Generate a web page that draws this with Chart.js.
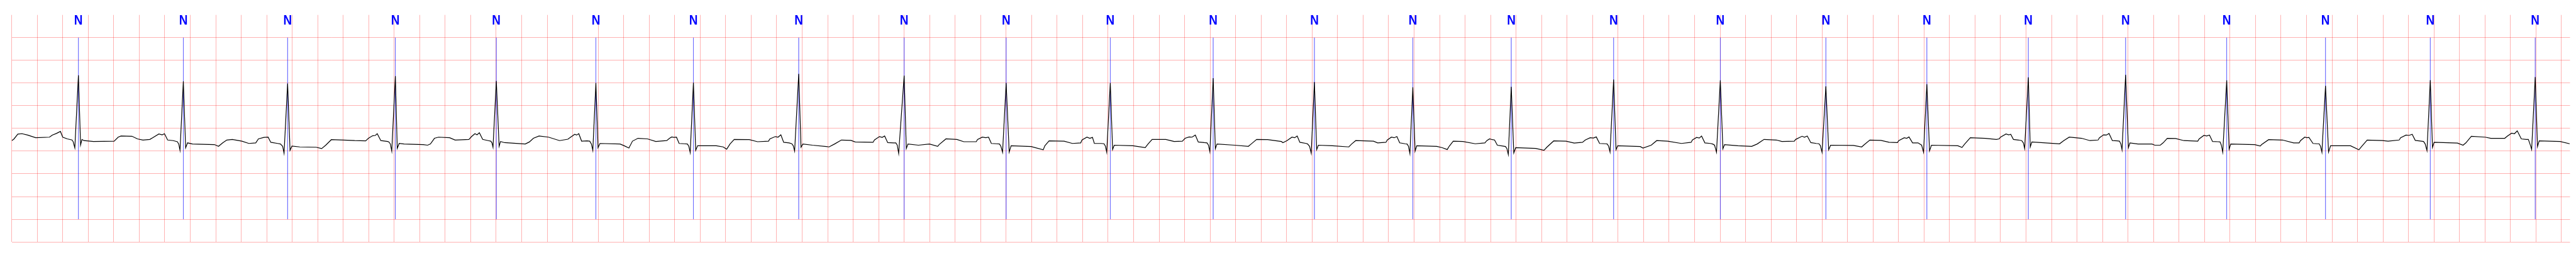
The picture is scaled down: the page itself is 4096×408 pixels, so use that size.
<!DOCTYPE html>
<html>
<head>
<meta charset="utf-8">
<script src="https://cdn.jsdelivr.net/npm/chart.js@4.4.1/dist/chart.umd.min.js"></script>
<style>
html,body{margin:0;padding:0;background:#ffffff;}
#wrap{width:4096px;height:408px;position:relative;}
</style>
</head>
<body>
<div id="wrap"><canvas id="c" width="4096" height="408"></canvas></div>
<script>
// ECG trace: [time (s), amplitude (mV)]
const ecgTrace = [
[0.000,-0.268],[0.016,-0.237],[0.048,-0.124],[0.081,-0.116],[0.124,-0.146],[0.188,-0.205],[0.296,-0.192],[0.318,-0.146],[0.350,-0.111],[0.382,-0.066],[0.400,-0.192],[0.436,-0.230],[0.473,-0.255],[0.482,-0.293],[0.495,-0.429],[0.523,1.172],[0.540,-0.364],[0.551,-0.242],[0.566,-0.268],[0.641,-0.288],[0.803,-0.280],[0.835,-0.192],[0.857,-0.167],[0.943,-0.172],[0.986,-0.230],[1.029,-0.255],[1.083,-0.242],[1.105,-0.205],[1.154,-0.121],[1.180,-0.141],[1.198,-0.116],[1.223,-0.255],[1.267,-0.268],[1.299,-0.293],[1.310,-0.343],[1.320,-0.482],[1.346,1.040],[1.364,-0.427],[1.379,-0.318],[1.418,-0.343],[1.590,-0.356],[1.622,-0.394],[1.655,-0.318],[1.687,-0.255],[1.730,-0.242],[1.806,-0.280],[1.860,-0.331],[1.914,-0.318],[1.935,-0.230],[1.978,-0.197],[2.011,-0.192],[2.032,-0.306],[2.086,-0.331],[2.108,-0.343],[2.125,-0.394],[2.136,-0.545],[2.164,0.990],[2.183,-0.482],[2.198,-0.389],[2.259,-0.407],[2.388,-0.414],[2.431,-0.444],[2.463,-0.369],[2.507,-0.247],[2.604,-0.255],[2.690,-0.268],[2.776,-0.273],[2.798,-0.217],[2.830,-0.162],[2.852,-0.154],[2.867,-0.116],[2.895,-0.268],[2.949,-0.288],[2.959,-0.298],[2.970,-0.343],[2.981,-0.500],[3.009,1.152],[3.024,-0.439],[3.039,-0.331],[3.078,-0.343],[3.229,-0.356],
[3.262,-0.369],[3.284,-0.343],[3.316,-0.217],[3.348,-0.192],[3.435,-0.205],[3.478,-0.255],[3.586,-0.242],[3.607,-0.179],[3.633,-0.116],[3.650,-0.141],[3.668,-0.096],[3.694,-0.242],[3.737,-0.268],[3.758,-0.280],[3.767,-0.318],[3.775,-0.414],[3.801,1.045],[3.823,-0.394],[3.834,-0.288],[3.866,-0.313],[4.028,-0.343],[4.060,-0.298],[4.092,-0.217],[4.136,-0.167],[4.211,-0.192],[4.297,-0.268],[4.362,-0.237],[4.384,-0.192],[4.416,-0.129],[4.431,-0.146],[4.448,-0.116],[4.470,-0.280],[4.513,-0.273],[4.534,-0.280],[4.547,-0.343],[4.558,-0.482],[4.582,1.000],[4.599,-0.424],[4.614,-0.331],[4.772,-0.343],[4.804,-0.381],[4.841,-0.432],[4.869,-0.280],[4.912,-0.217],[4.987,-0.230],[5.052,-0.288],[5.138,-0.268],[5.160,-0.217],[5.177,-0.187],[5.194,-0.197],[5.214,-0.192],[5.235,-0.331],[5.278,-0.338],[5.300,-0.343],[5.311,-0.394],[5.322,-0.533],[5.347,1.008],[5.365,-0.482],[5.380,-0.381],[5.526,-0.381],[5.580,-0.407],[5.608,-0.457],[5.634,-0.343],[5.667,-0.242],[5.785,-0.247],[5.850,-0.293],[5.936,-0.280],[5.947,-0.230],[5.990,-0.179],[6.011,-0.192],[6.033,-0.141],[6.055,-0.306],[6.098,-0.318],[6.119,-0.338],[6.130,-0.381],[6.141,-0.500],[6.173,1.202],[6.191,-0.414],[6.206,-0.343],[6.281,-0.369],[6.389,-0.399],[6.411,-0.407],[6.454,-0.343],[6.508,-0.255],[6.583,-0.263],
[6.616,-0.298],[6.756,-0.306],[6.767,-0.255],[6.806,-0.179],[6.828,-0.197],[6.847,-0.167],[6.871,-0.313],[6.918,-0.318],[6.935,-0.318],[6.946,-0.369],[6.957,-0.551],[7.000,1.164],[7.017,-0.444],[7.030,-0.343],[7.112,-0.369],[7.199,-0.343],[7.263,-0.394],[7.274,-0.356],[7.328,-0.230],[7.414,-0.242],[7.468,-0.293],[7.565,-0.293],[7.576,-0.242],[7.613,-0.192],[7.641,-0.205],[7.662,-0.192],[7.684,-0.331],[7.727,-0.338],[7.748,-0.343],[7.759,-0.394],[7.772,-0.525],[7.800,1.000],[7.824,-0.520],[7.839,-0.381],[7.996,-0.399],[8.091,-0.470],[8.104,-0.381],[8.137,-0.273],[8.255,-0.280],[8.320,-0.331],[8.385,-0.318],[8.395,-0.255],[8.434,-0.192],[8.456,-0.217],[8.477,-0.197],[8.492,-0.331],[8.546,-0.331],[8.568,-0.338],[8.579,-0.394],[8.589,-0.525],[8.617,1.000],[8.635,-0.465],[8.648,-0.369],[8.794,-0.381],[8.891,-0.424],[8.913,-0.343],[8.945,-0.242],[9.053,-0.242],[9.118,-0.288],[9.182,-0.280],[9.204,-0.217],[9.236,-0.187],[9.258,-0.192],[9.284,-0.146],[9.307,-0.298],[9.355,-0.313],[9.376,-0.318],[9.387,-0.369],[9.398,-0.513],[9.424,1.109],[9.441,-0.449],[9.454,-0.343],[9.592,-0.369],[9.700,-0.394],[9.722,-0.343],[9.765,-0.242],[9.851,-0.247],[9.959,-0.288],
[9.971,-0.313],[10.003,-0.268],[10.042,-0.192],[10.063,-0.205],[10.083,-0.167],[10.104,-0.306],[10.154,-0.331],[10.165,-0.343],[10.180,-0.394],[10.193,-0.545],[10.218,1.020],[10.236,-0.465],[10.249,-0.369],[10.359,-0.381],[10.488,-0.407],[10.510,-0.343],[10.542,-0.268],[10.682,-0.280],[10.714,-0.318],[10.779,-0.306],[10.790,-0.255],[10.822,-0.192],[10.844,-0.205],[10.865,-0.179],[10.887,-0.318],[10.930,-0.338],[10.945,-0.343],[10.956,-0.394],[10.967,-0.551],[10.990,0.907],[11.008,-0.500],[11.021,-0.381],[11.178,-0.394],[11.221,-0.424],[11.260,-0.465],[11.275,-0.394],[11.307,-0.280],[11.383,-0.288],[11.480,-0.338],[11.555,-0.318],[11.571,-0.268],[11.592,-0.230],[11.614,-0.247],[11.631,-0.255],[11.653,-0.369],[11.696,-0.389],[11.717,-0.399],[11.728,-0.444],[11.739,-0.576],[11.762,0.919],[11.782,-0.540],[11.797,-0.424],[11.954,-0.439],[12.019,-0.482],[12.041,-0.414],[12.095,-0.275],[12.192,-0.280],[12.256,-0.323],[12.321,-0.306],[12.343,-0.255],[12.381,-0.205],[12.407,-0.212],[12.429,-0.187],[12.455,-0.331],[12.504,-0.338],[12.515,-0.343],[12.526,-0.394],[12.537,-0.520],[12.565,1.076],[12.584,-0.470],[12.597,-0.381],[12.774,-0.399],[12.795,-0.432],[12.860,-0.369],[12.903,-0.268],[12.989,-0.280],[13.097,-0.331],[13.173,-0.306],[13.183,-0.255],[13.216,-0.199],[13.237,-0.212],[13.255,-0.167],[13.281,-0.318],[13.324,-0.331],
[13.342,-0.343],[13.357,-0.369],[13.372,-0.525],[13.402,1.058],[13.422,-0.449],[13.435,-0.356],[13.540,-0.381],[13.648,-0.394],[13.691,-0.343],[13.745,-0.242],[13.842,-0.255],[13.885,-0.288],[13.982,-0.280],[13.993,-0.242],[14.043,-0.172],[14.062,-0.192],[14.084,-0.167],[14.112,-0.313],[14.155,-0.331],[14.176,-0.338],[14.187,-0.381],[14.200,-0.525],[14.230,0.927],[14.252,-0.470],[14.267,-0.369],[14.446,-0.374],[14.511,-0.407],[14.532,-0.356],[14.575,-0.255],[14.662,-0.263],[14.726,-0.306],[14.791,-0.313],[14.802,-0.268],[14.845,-0.205],[14.864,-0.217],[14.882,-0.187],[14.910,-0.318],[14.953,-0.318],[14.981,-0.369],[14.996,-0.525],[15.022,0.975],[15.043,-0.495],[15.058,-0.369],[15.265,-0.381],[15.298,-0.419],[15.319,-0.343],[15.363,-0.205],[15.481,-0.217],[15.567,-0.242],[15.589,-0.230],[15.600,-0.192],[15.643,-0.121],[15.664,-0.141],[15.680,-0.129],[15.701,-0.242],[15.740,-0.255],[15.766,-0.268],[15.779,-0.318],[15.789,-0.444],[15.818,1.126],[15.833,-0.407],[15.846,-0.298],[16.063,-0.338],[16.096,-0.268],[16.139,-0.192],[16.236,-0.217],[16.301,-0.268],[16.365,-0.255],[16.376,-0.205],[16.408,-0.141],[16.430,-0.146],[16.451,-0.111],[16.477,-0.268],[16.516,-0.273],[16.533,-0.280],[16.544,-0.343],[16.553,-0.470],[16.581,1.182],[16.603,-0.424],[16.615,-0.318],[16.678,-0.343],
[16.696,-0.343],[16.788,-0.343],[16.810,-0.369],[16.853,-0.369],[16.875,-0.318],[16.908,-0.217],[16.973,-0.222],[17.038,-0.268],[17.147,-0.280],[17.158,-0.230],[17.195,-0.154],[17.217,-0.167],[17.239,-0.146],[17.263,-0.288],[17.306,-0.293],[17.322,-0.298],[17.332,-0.369],[17.343,-0.525],[17.374,1.058],[17.393,-0.457],[17.406,-0.343],[17.594,-0.356],[17.637,-0.389],[17.648,-0.356],[17.703,-0.247],[17.812,-0.255],[17.899,-0.318],[17.942,-0.318],[17.953,-0.268],[17.986,-0.192],[18.003,-0.205],[18.019,-0.197],[18.051,-0.331],[18.084,-0.338],[18.099,-0.338],[18.110,-0.394],[18.121,-0.525],[18.149,0.937],[18.173,-0.520],[18.189,-0.381],[18.345,-0.381],[18.411,-0.470],[18.433,-0.394],[18.476,-0.255],[18.596,-0.268],[18.640,-0.280],[18.727,-0.255],[18.738,-0.205],[18.781,-0.146],[18.803,-0.154],[18.829,-0.129],[18.853,-0.263],[18.901,-0.280],[18.918,-0.288],[18.931,-0.343],[18.945,-0.490],[18.971,1.063],[18.988,-0.419],[19.001,-0.306],[19.184,-0.323],[19.228,-0.369],[19.250,-0.318],[19.293,-0.172],[19.402,-0.192],[19.446,-0.217],[19.555,-0.217],[19.576,-0.167],[19.609,-0.104],[19.631,-0.116],[19.653,-0.053],[19.685,-0.230],[19.724,-0.242],[19.740,-0.242],[19.753,-0.343],[19.766,-0.462],[19.794,1.131],[19.812,-0.399],[19.825,-0.273],[19.990,-0.288],[20.064,-0.338]
];

// Beat annotations (time in s) and their symbols
const beatTimes = [0.523,1.346,2.164,3.009,3.801,4.582,5.347,6.173,7.000,7.800,8.617,9.424,10.218,10.990,11.762,12.565,13.402,14.230,15.022,15.818,16.581,17.374,18.149,18.971,19.794];
const beatSymbols = ['N','N','N','N','N','N','N','N','N','N','N','N','N','N','N','N','N','N','N','N','N','N','N','N','N'];

// Axis ranges (s, mV) and grid steps
const xRange = [0, 20.067];
const yRange = [-2.5, 2.5];
const xStep = 0.2;
const yStep = 0.5;
const markerSpan = [2.0, -2.0];
const symbolLevel = 2.286;

const gridColor = 'rgba(255,0,0,0.3)';

const signalData = ecgTrace.map(p => ({x: p[0], y: p[1]}));
const markerData = [];
beatTimes.forEach(t => {
  markerData.push({x: t, y: markerSpan[0]});
  markerData.push({x: t, y: markerSpan[1]});
  markerData.push({x: t, y: null});
});

const symbolPlugin = {
  id: 'beatSymbols',
  afterDatasetsDraw(chart) {
    const ctx = chart.ctx;
    const xs = chart.scales.x, ys = chart.scales.y;
    ctx.save();
    ctx.fillStyle = '#0000ff';
    ctx.font = 'bold 22px "Liberation Sans", Arial, sans-serif';
    ctx.textAlign = 'center';
    ctx.textBaseline = 'alphabetic';
    beatTimes.forEach((t, i) => {
      const px = xs.getPixelForValue(t);
      const py = ys.getPixelForValue(symbolLevel);
      ctx.save();
      ctx.translate(px, py);
      ctx.scale(0.86, 1);
      ctx.fillText(beatSymbols[i], 0, 0);
      ctx.restore();
    });
    ctx.restore();
  }
};

new Chart(document.getElementById('c'), {
  type: 'line',
  data: {
    datasets: [
      {
        label: 'ECG',
        data: signalData,
        borderColor: '#000000',
        borderWidth: 1.2,
        pointRadius: 0,
        tension: 0,
        fill: false,
        order: 0
      },
      {
        label: 'beats',
        data: markerData,
        borderColor: 'rgba(0,0,255,0.4)',
        borderWidth: 0.7,
        pointRadius: 0,
        spanGaps: false,
        fill: false,
        order: 1
      }
    ]
  },
  options: {
    responsive: false,
    animation: false,
    devicePixelRatio: 1,
    layout: {padding: {left: 18.66, right: 9.5, top: 23.7, bottom: 23.9}},
    plugins: {legend: {display: false}, tooltip: {enabled: false}},
    scales: {
      x: {
        type: 'linear',
        min: xRange[0],
        max: xRange[1],
        ticks: {display: false, stepSize: xStep, includeBounds: false},
        grid: {color: gridColor, lineWidth: 1, drawTicks: false},
        border: {display: false}
      },
      y: {
        type: 'linear',
        min: yRange[0],
        max: yRange[1],
        ticks: {display: false, stepSize: yStep},
        grid: {
          color: c => (c.tick && c.tick.value > yRange[1] - 0.01) ? 'rgba(0,0,0,0)' : gridColor,
          lineWidth: 1,
          drawTicks: false
        },
        border: {display: false}
      }
    }
  },
  plugins: [symbolPlugin]
});
</script>
</body>
</html>
